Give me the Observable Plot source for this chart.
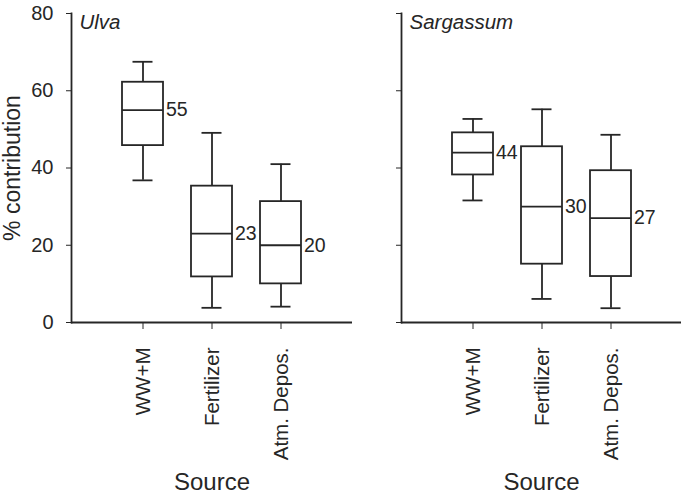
<!DOCTYPE html>
<html>
<head>
<meta charset="utf-8">
<script src="https://cdn.jsdelivr.net/npm/d3@7"></script>
<script src="https://cdn.jsdelivr.net/npm/@observablehq/plot@0.6"></script>
<style>
  html, body { margin: 0; padding: 0; background: #fff; }
  #chart { display: flex; flex-direction: row; width: 685px; height: 493px; overflow: hidden; }
  svg { font-family: "Liberation Sans", Arial, sans-serif; }
</style>
</head>
<body>
<div id="chart"></div>
<script>
// ---- data ----
const sources = ["WW+M", "Fertilizer", "Atm. Depos."];
const yTicks = [0, 20, 40, 60, 80];

const ulvaMin = [36.8, 3.8, 4.1];
const ulvaQ1  = [45.8, 11.8, 10.0];
const ulvaMed = [55, 23, 20];
const ulvaQ3  = [62.2, 35.3, 31.3];
const ulvaMax = [67.5, 49.1, 41.0];

const sargMin = [31.6, 6.1, 3.7];
const sargQ1  = [38.2, 15.1, 11.9];
const sargMed = [44, 30, 27];
const sargQ3  = [49.1, 45.5, 39.3];
const sargMax = [52.7, 55.2, 48.6];

const INK = "#262626";

function rows(mn, q1, md, q3, mx) {
  return sources.map((s, i) => ({source: s, min: mn[i], q1: q1[i], med: md[i], q3: q3[i], max: mx[i]}));
}

function panel({data, title, width, marginLeft, marginRight, showYLabels}) {
  const marks = [
    Plot.ruleX(data, {x: "source", y1: "min", y2: "max", stroke: INK, strokeWidth: 1.8}),
    Plot.tickY(data, {x: "source", y: "min", stroke: INK, strokeWidth: 1.8, insetLeft: 10.5, insetRight: 10.5}),
    Plot.tickY(data, {x: "source", y: "max", stroke: INK, strokeWidth: 1.8, insetLeft: 10.5, insetRight: 10.5}),
    Plot.barY(data, {x: "source", y1: "q1", y2: "q3", fill: "white", stroke: INK, strokeWidth: 1.8}),
    Plot.tickY(data, {x: "source", y: "med", stroke: INK, strokeWidth: 1.8}),
    Plot.text(data, {x: "source", y: "med", text: d => String(d.med), textAnchor: "start", dx: 23, fontSize: 19.5, fill: INK}),
    Plot.text([title], {frameAnchor: "top-left", dx: 8, dy: 1, lineAnchor: "top", fontStyle: "italic", fontSize: 20.5, fill: INK}),
    Plot.ruleY([0], {stroke: INK, strokeWidth: 1.8}),
    Plot.frame({anchor: "left", stroke: INK, strokeWidth: 1.8}),
    Plot.axisY({ticks: yTicks, tickSize: 5, tickPadding: 13, fontSize: 20, color: INK, label: null,
      tickFormat: showYLabels ? d => String(d) : () => ""}),
    Plot.axisX({tickSize: 7, tickPadding: 18, tickRotate: -90, fontSize: 20.5, color: INK, label: null}),
    Plot.axisX({ticks: [], tickSize: 0, label: "Source", labelAnchor: "center", labelArrow: "none", labelOffset: 167, fontSize: 24, color: INK})
  ];
  if (showYLabels) {
    marks.push(Plot.axisY({ticks: [], tickSize: 0, label: "% contribution", labelAnchor: "center", labelArrow: "none", labelOffset: 68, fontSize: 23, color: INK}));
  }
  return Plot.plot({
    width, height: 493,
    marginLeft, marginRight, marginTop: 13, marginBottom: 171,
    style: {fontFamily: "Liberation Sans, Arial, sans-serif", background: "white", color: INK},
    x: {type: "band", domain: sources, paddingInner: 0.41, paddingOuter: 0.72},
    y: {domain: [0, 80]},
    marks
  });
}

const el = document.getElementById("chart");
el.append(panel({data: rows(ulvaMin, ulvaQ1, ulvaMed, ulvaQ3, ulvaMax), title: "Ulva", width: 352, marginLeft: 71, marginRight: 0, showYLabels: true}));
el.append(panel({data: rows(sargMin, sargQ1, sargMed, sargQ3, sargMax), title: "Sargassum", width: 333, marginLeft: 49, marginRight: 4, showYLabels: false}));
</script>
</body>
</html>
